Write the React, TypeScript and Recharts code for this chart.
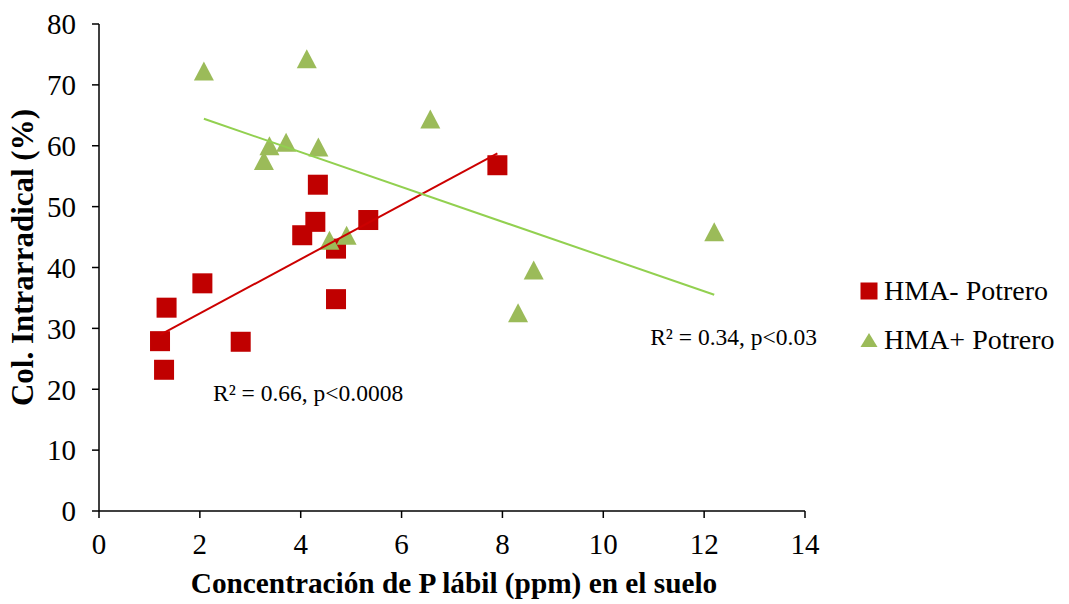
import React from 'react';
import { ScatterChart, Scatter, XAxis, YAxis, Legend, ReferenceDot } from 'recharts';

const FONT = '"Liberation Serif", "Times New Roman", Times, serif';

// Labile P concentration (ppm) and intraradical colonisation (%) per pasture sample
const potreroMinusP = [1.21, 1.29, 1.34, 2.05, 2.81, 4.03, 4.29, 4.34, 4.7, 4.7, 5.34, 7.9];
const potreroMinusCol = [27.9, 23.2, 33.4, 37.4, 27.8, 45.3, 47.5, 53.6, 43.1, 34.8, 47.8, 56.8];
const potreroPlusP = [2.08, 3.27, 3.38, 3.71, 4.12, 4.35, 4.57, 4.91, 6.57, 8.31, 8.62, 12.2];
const potreroPlusCol = [72.2, 57.5, 59.9, 60.5, 74.2, 59.7, 44.4, 45.2, 64.3, 32.5, 39.5, 45.8];

const xTicks = [0, 2, 4, 6, 8, 10, 12, 14];
const yTicks = [0, 10, 20, 30, 40, 50, 60, 70, 80];

const seriesNames = ['HMA- Potrero', 'HMA+ Potrero'];
const statLabels = ['R² = 0.66, p<0.0008', 'R² = 0.34, p<0.03'];
// anchor of each statistics note, in data units (left edge, vertical middle)
const statAnchors = [
  { x: 2.26, y: 19.4 },
  { x: 10.93, y: 28.6 },
];

const RED = '#C00000';
const RED_LINE = '#CC0000';
const GREEN = '#9BBB59';
const GREEN_LINE = '#92D050';

const toPoints = (xs: number[], ys: number[]) => xs.map((x, i) => ({ x, y: ys[i] }));

// least-squares line across the observed x range
function trend(xs: number[], ys: number[]) {
  const n = xs.length;
  const mx = xs.reduce((a, b) => a + b, 0) / n;
  const my = ys.reduce((a, b) => a + b, 0) / n;
  let sxy = 0;
  let sxx = 0;
  xs.forEach((x, i) => {
    sxy += (x - mx) * (ys[i] - my);
    sxx += (x - mx) * (x - mx);
  });
  const slope = sxy / sxx;
  const intercept = my - slope * mx;
  const lo = Math.min(...xs);
  const hi = Math.max(...xs);
  return [
    { x: lo, y: intercept + slope * lo },
    { x: hi, y: intercept + slope * hi },
  ];
}

const minusData = toPoints(potreroMinusP, potreroMinusCol);
const plusData = toPoints(potreroPlusP, potreroPlusCol);
const minusTrend = trend(potreroMinusP, potreroMinusCol);
const plusTrend = trend(potreroPlusP, potreroPlusCol);

const SquareMark = (props: any) => {
  const { cx, cy } = props;
  if (cx == null || cy == null) return <g />;
  return <rect x={cx - 10} y={cy - 10} width={20} height={20} fill={RED} />;
};

const TriangleMark = (props: any) => {
  const { cx, cy } = props;
  if (cx == null || cy == null) return <g />;
  return <polygon points={`${cx},${cy - 10} ${cx + 10},${cy + 9} ${cx - 10},${cy + 9}`} fill={GREEN} />;
};

const NoMark = () => <g />;

const LegendBox = () => (
  <div style={{ fontFamily: FONT, fontSize: 28, color: '#000', lineHeight: '49px' }}>
    {seriesNames.map((name, i) => (
      <div key={name} style={{ display: 'flex', alignItems: 'center', height: 49, whiteSpace: 'nowrap' }}>
        <svg width={18} height={18} style={{ marginRight: 6, flex: 'none' }}>
          {i === 0 ? (
            <rect x={0.5} y={0.5} width={17} height={17} fill={RED} />
          ) : (
            <polygon points="9,2 17.5,16 0.5,16" fill={GREEN} />
          )}
        </svg>
        <span style={{ fontFamily: 'Liberation Serif', fontSize: 28 }}>{name}</span>
      </div>
    ))}
  </div>
);

const StatText = (text: string) => (props: any) => {
  const vb = props.viewBox || {};
  const x = (vb.x ?? 0) + (vb.width ?? 0) / 2;
  const y = (vb.y ?? 0) + (vb.height ?? 0) / 2;
  return (
    <text x={x} y={y} dy="0.35em" textAnchor="start" fontFamily={FONT} fontSize={23.5} fill="#000">
      {text}
    </text>
  );
};

const YTitle = (props: any) => {
  const vb = props.viewBox || { x: 0, y: 24, width: 99, height: 487 };
  const cx = 22;
  const cy = vb.y + vb.height / 2 - 10;
  return (
    <text
      x={cx}
      y={cy}
      transform={`rotate(-90, ${cx}, ${cy})`}
      textAnchor="middle"
      dy="0.35em"
      fontFamily={FONT}
      fontSize={31}
      fontWeight="bold"
      fill="#000"
    >
      Col. Intrarradical (%)
    </text>
  );
};

const XTitle = (props: any) => {
  const vb = props.viewBox || { x: 99, y: 511, width: 706, height: 93 };
  return (
    <text
      x={vb.x + vb.width / 2 + 2}
      y={vb.y + 82}
      textAnchor="middle"
      fontFamily={FONT}
      fontSize={29.3}
      fontWeight="bold"
      fill="#000"
    >
      Concentración de P lábil (ppm) en el suelo
    </text>
  );
};

const tickStyle = { fontFamily: FONT, fontSize: 29, fill: '#000' };

export default function App() {
  return (
    <div style={{ position: 'absolute', left: 0, top: 0, width: 1069, height: 604, background: '#fff' }}>
      <ScatterChart width={1069} height={604} margin={{ top: 24, right: 59, bottom: 0, left: 0 }}>
        <XAxis
          type="number"
          dataKey="x"
          domain={[0, 14]}
          ticks={xTicks}
          allowDataOverflow
          height={93}
          tick={tickStyle}
          tickSize={7}
          tickMargin={15}
          axisLine={{ stroke: '#000', strokeWidth: 1.5 }}
          tickLine={{ stroke: '#000', strokeWidth: 1.5 }}
          label={{ content: XTitle }}
        />
        <YAxis
          type="number"
          dataKey="y"
          domain={[0, 80]}
          ticks={yTicks}
          allowDataOverflow
          width={99}
          tick={tickStyle}
          tickSize={7}
          tickMargin={16}
          axisLine={{ stroke: '#000', strokeWidth: 1.5 }}
          tickLine={{ stroke: '#000', strokeWidth: 1.5 }}
          label={{ content: YTitle }}
        />
        <Legend
          layout="vertical"
          align="right"
          verticalAlign="middle"
          content={LegendBox}
          wrapperStyle={{ left: 860, right: 'auto', top: 266, width: 205 }}
        />
        <Scatter name={seriesNames[0]} data={minusData} shape={SquareMark} isAnimationActive={false} />
        <Scatter name={seriesNames[1]} data={plusData} shape={TriangleMark} isAnimationActive={false} />
        <Scatter
          data={minusTrend}
          shape={NoMark}
          line={{ stroke: RED_LINE, strokeWidth: 2 }}
          legendType="none"
          isAnimationActive={false}
        />
        <Scatter
          data={plusTrend}
          shape={NoMark}
          line={{ stroke: GREEN_LINE, strokeWidth: 2 }}
          legendType="none"
          isAnimationActive={false}
        />
        {statAnchors.map((a, i) => (
          <ReferenceDot
            key={statLabels[i]}
            x={a.x}
            y={a.y}
            r={0}
            fill="none"
            stroke="none"
            label={{ content: StatText(statLabels[i]) }}
          />
        ))}
      </ScatterChart>
    </div>
  );
}
